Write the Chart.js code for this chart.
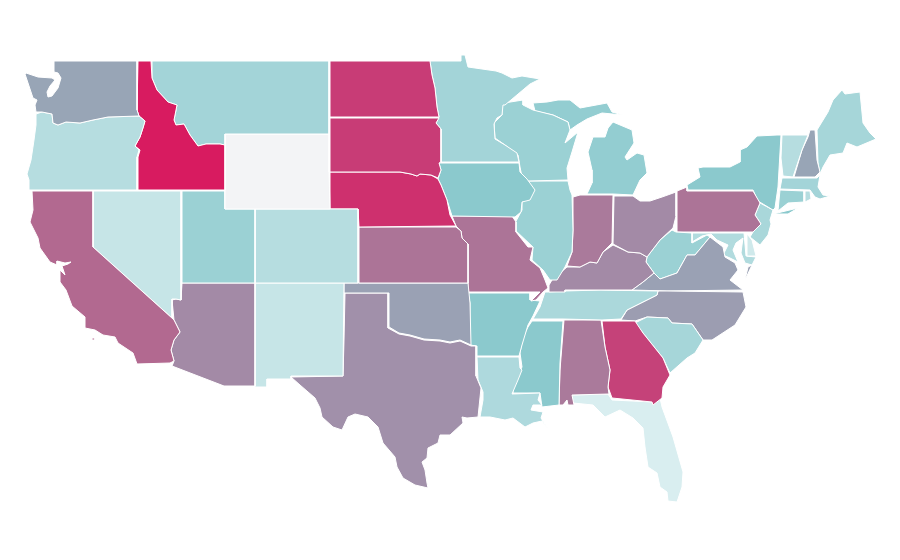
<!DOCTYPE html>
<html lang="en">
<head>
  <meta charset="UTF-8"/>
  <title>US states map</title>
  <script src="https://cdn.jsdelivr.net/npm/chart.js"></script>
  <style>
    html, body { margin: 0; background: #fff; }
    canvas { display: block; }
  </style>
</head>
<body>
<canvas id="map" width="900" height="560"></canvas>
<script>
// state values (null = no data)
const stateNames = ['WA','OR','CA','NV','ID','MT','WY','UT','AZ','CO','NM','ND','SD','NE','KS','OK','TX','MN','IA','MO','AR','LA','WI','IL','MI','IN','OH','KY','TN','MS','AL','GA','FL','SC','NC','VA','WV','PA','NY','VT','NH','ME','MA','CT','RI','NJ','DE','MD'];
const stateValues = [40,14,64,8,100,21,null,24,52,14,8,80,80,87,60,42,50,21,30,60,30,17,24,24,27,58,52,52,18,30,58,78,1,20,44,42,24,60,30,14,40,20,21,24,14,19,5,16];

// outlines, in map units
const WA = [[[54,61],[137,61],[137,110],[139,116],[108,117],[93,120],[80,123],[66,122],[58,125],[53,123],[52,114],[42,112],[36,112],[35,105],[37,100],[33,98],[31,92],[25,74],[26,73],[38,77],[52,78],[55,80],[50,86],[47,92],[48,97],[52,96],[58,88],[61,78],[58,73],[54,72]]];
const OR = [[[36,114],[42,112],[52,114],[53,123],[58,125],[66,122],[80,123],[93,120],[108,117],[139,116],[145,121],[143,128],[140,137],[135,146],[139,150],[137,157],[137,190],[29,190],[29,180],[27,174],[31,160],[34,140],[36,125]]];
const CA = [[[32,191],[93,191],[93,247],[173,319],[174,320],[180,332],[174,340],[171,350],[174,361],[170,363],[137,364],[133,353],[118,343],[115,337],[103,335],[95,330],[85,328],[85,317],[72,306],[66,290],[60,282],[60,270],[65,275],[62,266],[68,264],[71,262],[65,263],[57,261],[57,265],[50,262],[40,248],[38,238],[30,222],[33,210]],[[92,338],[95,338],[95,340],[92,340]]];
const NV = [[[93,191],[181,191],[181,300],[176,299],[172,299],[172,318],[93,247]]];
const ID = [[[138,61],[151,61],[152,78],[157,90],[168,102],[177,105],[174,120],[176,125],[184,124],[190,135],[198,146],[206,144],[220,144],[225,145],[225,190],[138,190],[138,157],[140,150],[135,146],[140,137],[145,121],[139,116],[137,110]]];
const MT = [[[152,61],[329,61],[329,134],[225,134],[225,145],[220,144],[206,144],[198,146],[190,135],[184,124],[176,125],[174,120],[177,105],[168,102],[157,90],[152,78]]];
const WY = [[[225,134],[329,134],[329,172],[330,209],[225,209]]];
const UT = [[[182,191],[225,191],[225,209],[255,209],[255,283],[182,283]]];
const AZ = [[[182,283],[255,283],[255,386],[224,386],[172,366],[174,361],[171,350],[174,340],[180,332],[174,320],[172,300],[176,299],[181,300]]];
const CO = [[[255,209],[358,209],[358,283],[255,283]]];
const NM = [[[255,283],[344,283],[343,376],[291,376],[291,379],[267,379],[267,387],[255,387]]];
const ND = [[[330,61],[430,61],[432,75],[435,88],[437,107],[439,117],[330,117]]];
const SD = [[[330,118],[439,118],[436,123],[441,129],[441,162],[439,163],[441,170],[438,178],[431,175],[420,174],[417,176],[411,174],[400,172],[330,172]]];
const NE = [[[330,172],[400,172],[411,174],[417,176],[420,174],[431,175],[438,179],[441,185],[447,200],[450,215],[456,226],[359,227],[358,209],[330,209]]];
const KS = [[[359,227],[456,227],[461,231],[462,238],[468,244],[468,283],[359,283]]];
const OK = [[[344,283],[468,283],[470,303],[471,345],[460,340],[450,342],[440,340],[424,339],[410,335],[399,333],[389,327],[389,293],[344,293]]];
const TX = [[[345,293],[388,293],[388,328],[399,334],[410,336],[424,340],[440,341],[450,343],[460,341],[471,346],[476,346],[476,376],[481,388],[478,417],[467,418],[462,417],[463,423],[450,435],[440,435],[438,443],[428,448],[427,458],[422,462],[425,470],[427,483],[428,488],[415,485],[403,478],[397,467],[395,457],[383,443],[378,427],[368,417],[355,414],[348,417],[342,430],[333,427],[322,417],[320,408],[315,398],[300,385],[291,377],[343,376],[344,340]]];
const MN = [[[430,61],[461,61],[461,55],[465,55],[468,67],[482,69],[496,71],[502,73],[512,78],[522,76],[540,79],[530,84],[505,105],[503,105],[502,115],[497,118],[494,124],[495,139],[505,145],[517,153],[519,162],[441,162],[441,129],[436,123],[439,117],[437,107],[435,88],[432,75]]];
const IA = [[[441,163],[519,163],[520,172],[527,179],[535,190],[530,200],[522,202],[521,212],[515,217],[452,216],[447,200],[441,185],[438,179],[441,170],[439,163]]];
const MO = [[[452,216],[512,216],[516,222],[516,232],[528,247],[533,247],[530,260],[540,268],[545,280],[548,288],[543,292],[536,300],[531,301],[540,292],[468,292],[468,244],[462,238],[461,231],[456,226]]];
const AR = [[[468,293],[530,293],[530,300],[540,301],[533,316],[528,325],[522,345],[519,356],[477,356],[477,346],[470,345],[470,303]]];
const LA = [[[477,357],[519,357],[520,368],[522,370],[518,380],[512,394],[540,393],[538,400],[542,405],[533,405],[531,410],[543,412],[541,418],[548,429],[542,421],[533,423],[525,427],[513,418],[505,420],[490,417],[480,417],[483,400],[483,392],[478,380]]];
const WI = [[[502,105],[504,103],[523,100],[523,105],[533,110],[553,115],[568,122],[570,130],[565,143],[578,132],[572,152],[567,168],[568,180],[528,181],[522,177],[520,167],[518,155],[505,145],[495,138],[494,123],[502,115]]];
const IL = [[[528,181],[568,181],[570,190],[572,195],[573,230],[572,252],[565,267],[557,280],[550,280],[543,270],[532,260],[533,247],[515,230],[515,223],[522,210],[522,202],[533,193]]];
const MI = [[[587,194],[613,194],[633,195],[640,180],[647,173],[644,155],[637,153],[627,160],[625,157],[634,143],[632,130],[613,122],[608,128],[605,137],[593,137],[588,152],[592,170],[592,183]],[[533,103],[547,102],[558,100],[570,100],[580,108],[607,103],[612,112],[623,115],[602,113],[587,119],[577,125],[570,130],[568,122],[553,115],[535,111]]];
const IN = [[[573,197],[580,195],[613,195],[612,243],[603,252],[597,263],[590,262],[580,267],[567,266],[572,252],[573,230]]];
const OH = [[[614,196],[633,196],[640,201],[650,201],[662,197],[676,192],[676,216],[673,228],[660,240],[647,257],[640,253],[628,252],[613,244]]];
const KY = [[[549,285],[552,280],[567,267],[572,267],[580,267],[590,262],[597,263],[603,252],[613,245],[628,252],[640,253],[647,257],[646,262],[654,273],[643,282],[632,290],[565,290],[565,292],[549,292]]];
const TN = [[[548,292],[565,291],[600,290],[658,291],[657,295],[643,302],[627,310],[621,319],[602,320],[563,319],[533,319],[540,307],[545,292]]];
const MS = [[[532,321],[563,321],[560,363],[559,405],[542,407],[540,393],[513,393],[513,385],[522,367],[520,353],[523,337],[528,327]]];
const AL = [[[564,320],[601,320],[605,347],[610,370],[608,387],[609,394],[572,395],[574,405],[568,405],[567,400],[563,405],[559,405],[560,370]]];
const GA = [[[602,321],[635,321],[643,333],[655,348],[663,358],[670,375],[663,387],[662,398],[653,405],[652,402],[612,398],[608,387],[610,370],[605,347]]];
const FL = [[[572,395],[608,394],[612,400],[653,402],[660,398],[662,407],[673,437],[683,472],[682,487],[677,502],[668,501],[667,492],[660,487],[657,473],[648,467],[645,447],[643,428],[633,418],[620,410],[605,417],[593,405],[573,403]]];
const SC = [[[635,323],[647,317],[668,318],[672,323],[692,324],[703,340],[695,353],[687,358],[670,373],[663,358],[655,348],[643,333]]];
const NC = [[[667,291],[743,292],[746,307],[735,325],[712,340],[703,340],[692,324],[672,323],[668,318],[647,317],[635,321],[621,320],[627,310],[643,302],[657,295],[658,291]]];
const VA = [[[632,290],[643,282],[654,273],[660,279],[677,273],[687,255],[695,255],[710,237],[723,247],[725,257],[735,263],[738,270],[730,280],[743,290],[667,291]],[[748,267],[752,265],[745,280]]];
const WV = [[[646,262],[647,257],[660,240],[672,230],[676,232],[692,233],[692,243],[707,235],[710,237],[695,255],[687,255],[677,273],[660,279],[654,273]]];
const PA = [[[677,191],[687,187],[687,191],[753,191],[760,203],[755,215],[761,224],[753,232],[677,232]]];
const NY = [[[687,185],[688,190],[753,190],[758,201],[773,210],[775,208],[778,187],[781,135],[777,135],[757,136],[747,147],[740,150],[740,162],[730,167],[703,167],[698,168],[700,177]],[[773,214],[798,208],[788,214]]];
const NJ = [[[760,203],[773,210],[770,220],[771,224],[768,235],[760,245],[750,237],[753,232],[761,224],[755,215]]];
const VT = [[[782,135],[808,135],[802,150],[793,177],[783,176],[781,158]]];
const NH = [[[810,130],[815,130],[817,160],[820,172],[815,177],[794,177],[802,150],[808,137]]];
const ME = [[[817,130],[828,112],[833,100],[842,90],[845,94],[860,92],[863,123],[870,133],[876,139],[857,147],[847,143],[843,153],[830,155],[823,167],[820,174],[818,163]]];
const MA = [[[782,178],[817,178],[820,175],[818,187],[823,195],[830,196],[820,199],[815,197],[810,190],[780,189]]];
const CT = [[[780,190],[804,191],[804,202],[788,203],[778,211],[779,200]]];
const RI = [[[805,191],[810,191],[811,199],[805,202]]];
const DE = [[[747,234],[752,240],[756,256],[747,256]]];
const MD = [[[692,233],[744,233],[746,256],[756,257],[752,265],[745,263],[741,253],[742,245],[743,238],[736,243],[733,250],[738,262],[730,258],[723,255],[728,245],[717,240],[711,234],[702,236],[692,242]]];

const stateOutlines = [WA,OR,CA,NV,ID,MT,WY,UT,AZ,CO,NM,ND,SD,NE,KS,OK,TX,MN,IA,MO,AR,LA,WI,IL,MI,IN,OH,KY,TN,MS,AL,GA,FL,SC,NC,VA,WV,PA,NY,VT,NH,ME,MA,CT,RI,NJ,DE,MD];

const noDataColor = '#f3f4f6';
const colorStops = [
  [0,   [220,239,241]],
  [30,  [139,201,205]],
  [40,  [152,165,182]],
  [50,  [161,144,170]],
  [60,  [172,116,151]],
  [80,  [200,60,118]],
  [100, [216,27,96]]
];

function valueColor(v) {
  if (v === null) return noDataColor;
  for (let i = 1; i < colorStops.length; i++) {
    const [v0, c0] = colorStops[i - 1];
    const [v1, c1] = colorStops[i];
    if (v <= v1) {
      const t = (v - v0) / (v1 - v0);
      const c = c0.map((x, k) => Math.round(x + (c1[k] - x) * t));
      return `rgb(${c[0]},${c[1]},${c[2]})`;
    }
  }
  return 'rgb(216,27,96)';
}

// one closed line per ring, filled as a shape
const datasets = [];
stateNames.forEach((name, i) => {
  stateOutlines[i].forEach(ring => {
    const pts = ring.concat([ring[0]]).map(p => ({ x: p[0], y: p[1] }));
    datasets.push({
      label: name,
      data: pts,
      showLine: true,
      fill: 'shape',
      tension: 0,
      pointRadius: 0,
      borderWidth: 1,
      borderColor: '#ffffff',
      backgroundColor: valueColor(stateValues[i])
    });
  });
});

new Chart(document.getElementById('map'), {
  type: 'scatter',
  data: { datasets },
  options: {
    responsive: false,
    animation: false,
    layout: { padding: 0 },
    plugins: { legend: { display: false }, tooltip: { enabled: false } },
    scales: {
      x: { type: 'linear', min: 0, max: 900, display: false },
      y: { type: 'linear', min: 0, max: 560, reverse: true, display: false }
    }
  }
});
</script>
</body>
</html>
